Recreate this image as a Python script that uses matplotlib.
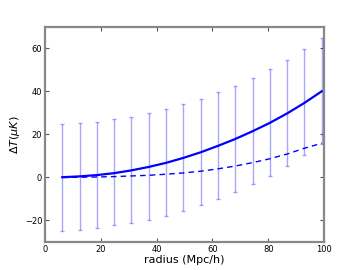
import numpy as np
import matplotlib
matplotlib.use('Agg')
import matplotlib.pyplot as plt

# radius bins (Mpc/h)
radius = [6.2, 12.4, 18.6, 24.8, 31.0, 37.2, 43.4, 49.6,
          55.8, 62.0, 68.2, 74.4, 80.6, 86.8, 93.0, 99.2]
# mean profile (solid) and second profile (dashed), in muK
dT_mean = [0.1, 0.5, 1.1, 2.0, 3.3, 4.9, 6.8, 9.1,
           11.7, 14.7, 17.9, 21.5, 25.4, 29.8, 34.7, 40.1]
dT_dash = [0.0, 0.1, 0.2, 0.4, 0.7, 1.0, 1.5, 2.1,
           2.9, 4.0, 5.3, 6.9, 8.7, 10.9, 13.6, 15.9]
# error bar ends
err_low = [-25.0, -24.6, -23.6, -22.1, -21.3, -19.9, -17.9, -15.7,
           -12.9, -10.1, -6.9, -3.2, 0.7, 5.2, 10.3, 15.6]
err_high = [24.9, 25.2, 26.0, 27.1, 28.1, 29.9, 31.7, 34.0,
            36.4, 39.6, 42.6, 46.1, 50.3, 54.5, 59.6, 64.7]

r = np.array(radius)
m = np.array(dT_mean)
yerr = [m - np.array(err_low), np.array(err_high) - m]

fig = plt.figure(figsize=(3.6, 2.7), dpi=100)
ax = fig.add_axes([0.125, 0.104, 0.775, 0.796])

ax.errorbar(r, m, yerr=yerr, fmt='none', ecolor='#0000ff', alpha=0.35,
            elinewidth=1, capsize=1.5, capthick=1)
ax.plot(r, m, '-', color='#0000ff', lw=1.6)
ax.plot(r, dT_dash, '--', color='#0000ff', lw=1.0, dashes=(4, 3))

ax.set_xlim(0, 100)
ax.set_ylim(-30, 70)
ax.set_xticks([0, 20, 40, 60, 80, 100])
ax.set_yticks([-20, 0, 20, 40, 60])

for s in ax.spines.values():
    s.set_color('#888888')
    s.set_linewidth(1.6)
ax.tick_params(direction='in', length=3, width=0.8, color='#555555',
               labelsize=6, top=True, right=True, pad=2)

ax.set_xlabel('radius (Mpc/h)', fontsize=8, labelpad=1)
ax.set_ylabel(r'$\Delta T(\mu K)$', fontsize=8, labelpad=2)

fig.savefig('out.png', dpi=100)
